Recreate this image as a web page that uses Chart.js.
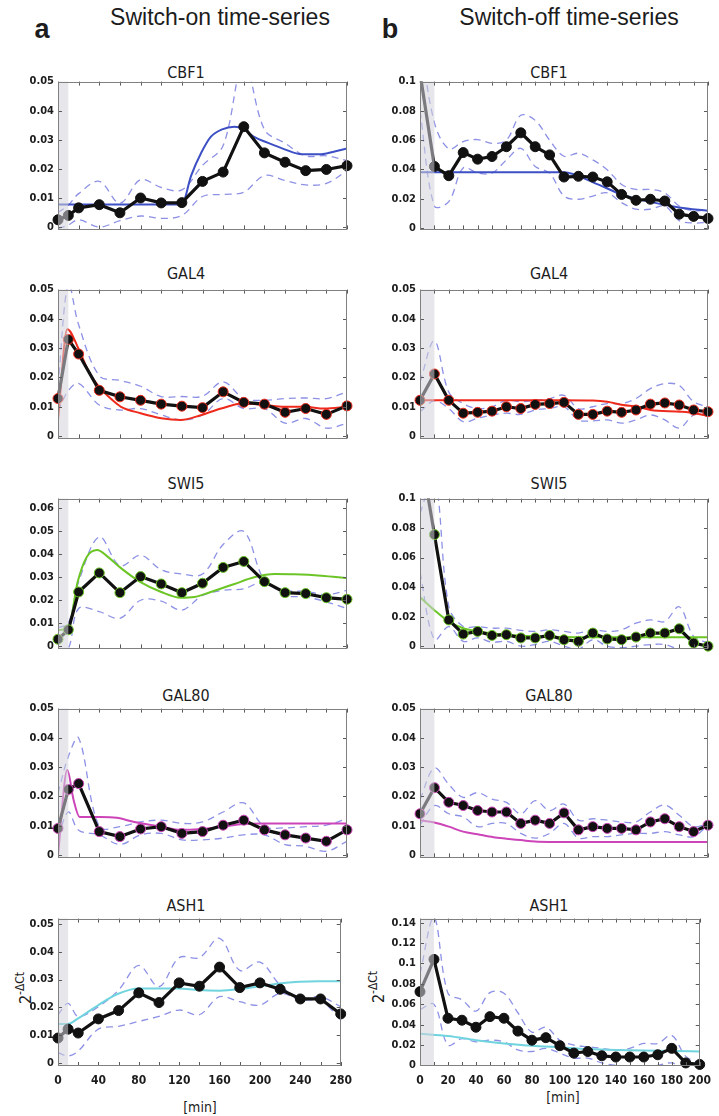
<!DOCTYPE html>
<html>
<head>
<meta charset="utf-8">
<script src="https://cdn.jsdelivr.net/npm/chart.js@4.4.1/dist/chart.umd.min.js"></script>
<style>
  html, body { margin: 0; padding: 0; background: #fff; }
  #page { position: relative; width: 719px; height: 1116px; overflow: hidden; background: #fff; }
  .txt { position: absolute; transform: translate(-50%, -50%); white-space: nowrap; color: #1c1c1c; }
  .head { font: 23px "Liberation Sans", Arial, sans-serif; }
  .tag { font: bold 27px "Liberation Sans", Arial, sans-serif; }
  .ptitle { font: 16px "DejaVu Sans Condensed", "DejaVu Sans", sans-serif; }
  .xt { font: 14px "DejaVu Sans Condensed", "DejaVu Sans", sans-serif; }
  .yt { font: 16px "DejaVu Sans Condensed", "DejaVu Sans", sans-serif; transform: translate(-50%, -50%) rotate(-90deg); }
  .yt sup { font-size: 12px; }
  canvas { position: absolute; }
</style>
</head>
<body>
<div id="page">
  <div class="txt tag" style="left:42px;top:29px">a</div>
  <div class="txt head" style="left:220px;top:17px">Switch-on time-series</div>
  <div class="txt tag" style="left:390px;top:29px">b</div>
  <div class="txt head" style="left:569px;top:17px">Switch-off time-series</div>
  <div class="txt xt" style="left:200px;top:1107px">[min]</div>
  <div class="txt xt" style="left:563px;top:1097px">[min]</div>
  <div class="txt yt" style="left:24px;top:988px">2<sup>-ΔCt</sup></div>
  <div class="txt yt" style="left:377px;top:987px">2<sup>-ΔCt</sup></div>
</div>
<script>
// ---- sampling times [min] ----
const onTimes  = [0, 10, 20, 40, 60, 80, 100, 120, 140, 160, 180, 200, 220, 240, 260, 280];
const offTimes = [0, 10, 20, 30, 40, 50, 60, 70, 80, 90, 100, 110, 120, 130, 140, 150, 160, 170, 180, 190, 200];

// ---- axis ticks ----
const onTickMarks  = [0, 20, 40, 60, 80, 100, 120, 140, 160, 180, 200, 220, 240, 260, 280];
const onTickLabels = [0, 40, 80, 120, 160, 200, 240, 280];
const offTickMarks  = [0, 10, 20, 30, 40, 50, 60, 70, 80, 90, 100, 110, 120, 130, 140, 150, 160, 170, 180, 190, 200];
const offTickLabels = [0, 20, 40, 60, 80, 100, 120, 140, 160, 180, 200];
const yTicks05 = [0, 0.01, 0.02, 0.03, 0.04, 0.05];
const yTicks06 = [0, 0.01, 0.02, 0.03, 0.04, 0.05, 0.06];
const yTicks10 = [0, 0.02, 0.04, 0.06, 0.08, 0.1];
const yTicks14 = [0, 0.02, 0.04, 0.06, 0.08, 0.1, 0.12, 0.14];

// ---- switch-on: CBF1 ----
const cbf1OnMean  = [0.0025, 0.004, 0.0066, 0.0077, 0.0049, 0.0100, 0.0083, 0.0084, 0.0157, 0.0189, 0.0345, 0.0255, 0.0223, 0.0194, 0.0198, 0.0211];
const cbf1OnUpper = [0.005, 0.0075, 0.0115, 0.0157, 0.0082, 0.0163, 0.0136, 0.0128, 0.0212, 0.028, 0.057, 0.0335, 0.0288, 0.0245, 0.0245, 0.0228];
const cbf1OnLower = [-0.0005, 0.0007, 0.0025, 0.0, 0.0022, 0.0038, 0.003, 0.004, 0.0105, 0.0112, 0.012, 0.0177, 0.016, 0.0145, 0.015, 0.0194];
const cbf1OnModelT = [0, 40, 80, 120, 129, 139, 148, 159, 171, 179, 190, 203, 219, 236, 255, 268, 280];
const cbf1OnModelV = [0.0078, 0.0078, 0.0078, 0.0078, 0.0177, 0.0257, 0.031, 0.0336, 0.0345, 0.0339, 0.031, 0.029, 0.0268, 0.025, 0.025, 0.026, 0.027];

// ---- switch-on: GAL4 ----
const gal4OnMean  = [0.0128, 0.033, 0.028, 0.0156, 0.0134, 0.0122, 0.0109, 0.0102, 0.0097, 0.0151, 0.0115, 0.0109, 0.0081, 0.0094, 0.0074, 0.0103];
const gal4OnUpper = [0.017, 0.052, 0.038, 0.0206, 0.019, 0.017, 0.0135, 0.0135, 0.0136, 0.0185, 0.0128, 0.0122, 0.0128, 0.013, 0.0128, 0.0151];
const gal4OnLower = [0.0085, 0.0155, 0.018, 0.0106, 0.0089, 0.0094, 0.0072, 0.0055, 0.0072, 0.0128, 0.0094, 0.0094, 0.0044, 0.006, 0.0027, 0.0044];
const gal4OnModelT = [0, 9, 20, 30, 40, 51, 61, 80, 100, 119, 139, 158, 179, 200, 219, 239, 258, 280];
const gal4OnModelV = [0.0055, 0.0365, 0.0297, 0.0218, 0.0167, 0.0128, 0.010, 0.0078, 0.0061, 0.0055, 0.0072, 0.0094, 0.0111, 0.0106, 0.010, 0.010, 0.0094, 0.010];

// ---- switch-on: SWI5 ----
const swi5OnMean  = [0.003, 0.0071, 0.0236, 0.0319, 0.0233, 0.0303, 0.0271, 0.0233, 0.0274, 0.0343, 0.0369, 0.0281, 0.0233, 0.0229, 0.0211, 0.0204];
const swi5OnUpper = [0.008, 0.010, 0.028, 0.0476, 0.035, 0.0396, 0.0333, 0.0314, 0.0314, 0.0443, 0.050, 0.0286, 0.0243, 0.0239, 0.0224, 0.0243];
const swi5OnLower = [-0.002, -0.001, 0.0164, 0.015, 0.0121, 0.020, 0.0196, 0.0157, 0.0221, 0.0243, 0.025, 0.028, 0.0221, 0.0214, 0.0193, 0.0164];
const swi5OnModelT = [0, 10, 19, 28, 38, 48, 61, 80, 100, 119, 132, 148, 171, 190, 210, 229, 255, 280];
const swi5OnModelV = [0.007, 0.0079, 0.0279, 0.039, 0.0419, 0.039, 0.034, 0.0279, 0.0236, 0.0211, 0.0214, 0.0236, 0.0271, 0.030, 0.0314, 0.0313, 0.0307, 0.0296];

// ---- switch-on: GAL80 ----
const gal80OnMean  = [0.0091, 0.0224, 0.0244, 0.008, 0.0063, 0.0089, 0.0097, 0.0074, 0.008, 0.0102, 0.0119, 0.0086, 0.0069, 0.0058, 0.0047, 0.0086];
const gal80OnUpper = [0.021, 0.0336, 0.040, 0.0097, 0.0097, 0.0113, 0.0119, 0.0108, 0.0113, 0.0147, 0.0178, 0.0097, 0.0093, 0.0097, 0.0102, 0.0124];
const gal80OnLower = [0.006, 0.0147, 0.0085, 0.0069, 0.0036, 0.0069, 0.0074, 0.0052, 0.0052, 0.0058, 0.0069, 0.0069, 0.0036, 0.003, 0.0013, 0.0047];
const gal80OnModelT = [0, 9, 15, 21, 41, 57, 74, 100, 119, 139, 160, 179, 200, 240, 280];
const gal80OnModelV = [0.0, 0.029, 0.019, 0.013, 0.013, 0.0127, 0.0113, 0.0097, 0.0086, 0.0089, 0.0097, 0.0106, 0.0108, 0.0108, 0.0108];

// ---- switch-on: ASH1 ----
const ash1OnMean  = [0.0089, 0.0121, 0.0107, 0.0158, 0.0188, 0.0252, 0.0217, 0.0288, 0.0276, 0.0345, 0.0271, 0.0288, 0.0265, 0.023, 0.023, 0.0176];
const ash1OnUpper = [0.0173, 0.0214, 0.0167, 0.0202, 0.0262, 0.0351, 0.0274, 0.0379, 0.0379, 0.0449, 0.0333, 0.0363, 0.028, 0.0232, 0.0238, 0.0202];
const ash1OnLower = [0.0036, 0.0024, 0.0042, 0.0121, 0.0131, 0.0149, 0.0167, 0.019, 0.0173, 0.0238, 0.022, 0.0208, 0.025, 0.0226, 0.0224, 0.0155];
const ash1OnModelT = [0, 10, 20, 40, 59, 80, 100, 119, 139, 160, 179, 200, 219, 239, 258, 280];
const ash1OnModelV = [0.014, 0.014, 0.016, 0.0208, 0.0248, 0.0268, 0.0268, 0.0268, 0.0262, 0.026, 0.0265, 0.0276, 0.0286, 0.0292, 0.0294, 0.0294];

// ---- switch-off: CBF1 ----
const cbf1OffMean  = [0.106, 0.042, 0.0357, 0.0515, 0.047, 0.0488, 0.0555, 0.065, 0.0555, 0.0499, 0.0348, 0.0353, 0.0348, 0.0315, 0.0229, 0.0189, 0.0196, 0.0184, 0.0094, 0.0079, 0.0065];
const cbf1OffUpper = [0.13, 0.072, 0.054, 0.059, 0.0604, 0.0578, 0.060, 0.077, 0.0735, 0.060, 0.049, 0.051, 0.0465, 0.0398, 0.0297, 0.0263, 0.0263, 0.024, 0.015, 0.0117, 0.0128];
const cbf1OffLower = [0.08, 0.015, 0.018, 0.041, 0.0375, 0.0375, 0.0465, 0.0544, 0.042, 0.0375, 0.0218, 0.0196, 0.0218, 0.024, 0.0173, 0.0128, 0.0128, 0.015, 0.005, 0.0034, 0.0038];
const cbf1OffModelT = [0, 50, 100, 121, 140, 160, 180, 200];
const cbf1OffModelV = [0.038, 0.038, 0.038, 0.0308, 0.0229, 0.0178, 0.014, 0.0117];

// ---- switch-off: GAL4 ----
const gal4OffMean  = [0.0122, 0.0212, 0.0122, 0.0078, 0.0081, 0.0085, 0.010, 0.0094, 0.0108, 0.0111, 0.0115, 0.0074, 0.0074, 0.0085, 0.0081, 0.0089, 0.0109, 0.0113, 0.0106, 0.0089, 0.0083];
const gal4OffUpper = [0.0184, 0.0325, 0.015, 0.0111, 0.0094, 0.010, 0.0122, 0.0117, 0.0122, 0.0128, 0.0139, 0.0094, 0.010, 0.0111, 0.0111, 0.0128, 0.0162, 0.0179, 0.0173, 0.0117, 0.010];
const gal4OffLower = [0.0083, 0.012, 0.0094, 0.0049, 0.0061, 0.0072, 0.0078, 0.0074, 0.0089, 0.0094, 0.010, 0.0055, 0.0052, 0.0055, 0.0044, 0.0055, 0.0072, 0.0055, 0.0027, 0.0072, 0.0078];
const gal4OffModelT = [0, 50, 100, 120, 130, 141, 151, 160, 181, 191, 200];
const gal4OffModelV = [0.0122, 0.0122, 0.0122, 0.0121, 0.0117, 0.0106, 0.010, 0.0089, 0.0083, 0.0078, 0.0069];

// ---- switch-off: SWI5 ----
const swi5OffMean  = [0.134, 0.0756, 0.0178, 0.0082, 0.010, 0.0073, 0.0078, 0.0056, 0.0056, 0.0073, 0.0044, 0.0033, 0.0089, 0.0049, 0.0044, 0.0062, 0.0089, 0.0089, 0.0118, 0.0022, 0.0];
const swi5OffUpper = [0.09, 0.115, 0.027, 0.0133, 0.0133, 0.0122, 0.0122, 0.0107, 0.010, 0.0111, 0.010, 0.0089, 0.0111, 0.010, 0.0111, 0.0156, 0.0178, 0.0167, 0.0267, 0.0067, 0.0022];
const swi5OffLower = [0.05, 0.0044, 0.0133, 0.0033, 0.0056, 0.0027, 0.0033, 0.0, 0.0011, 0.0033, 0.0, -0.002, 0.0044, 0.0, -0.001, 0.0, 0.0011, 0.0011, -0.002, -0.002, -0.002];
const swi5OffModelT = [0, 10, 20, 30, 40, 60, 80, 100, 140, 200];
const swi5OffModelV = [0.0333, 0.0244, 0.0167, 0.0122, 0.010, 0.0078, 0.0067, 0.0062, 0.006, 0.006];

// ---- switch-off: GAL80 ----
const gal80OffMean  = [0.0141, 0.023, 0.018, 0.0169, 0.0152, 0.0147, 0.0147, 0.0108, 0.0119, 0.0108, 0.0144, 0.0086, 0.0097, 0.0091, 0.0091, 0.0086, 0.0113, 0.0124, 0.0097, 0.008, 0.0102];
const gal80OffUpper = [0.019, 0.0297, 0.0241, 0.0197, 0.0213, 0.0191, 0.018, 0.0141, 0.0186, 0.0152, 0.0174, 0.0119, 0.0124, 0.0119, 0.0113, 0.0113, 0.0147, 0.0171, 0.0136, 0.0097, 0.0108];
const gal80OffLower = [0.0102, 0.0169, 0.0141, 0.013, 0.0097, 0.0108, 0.0108, 0.0074, 0.0058, 0.0074, 0.0108, 0.0058, 0.0063, 0.0063, 0.0069, 0.0074, 0.0074, 0.008, 0.0069, 0.0063, 0.0102];
const gal80OffModelT = [0, 10, 20, 30, 40, 51, 60, 70, 80, 90, 200];
const gal80OffModelV = [0.0119, 0.0111, 0.0097, 0.008, 0.0071, 0.0061, 0.0056, 0.0051, 0.0046, 0.0045, 0.0045];

// ---- switch-off: ASH1 ----
const ash1OffMean  = [0.0724, 0.104, 0.0463, 0.0444, 0.0375, 0.0479, 0.0463, 0.0337, 0.0248, 0.0273, 0.0194, 0.0121, 0.0137, 0.0095, 0.0083, 0.0083, 0.0083, 0.0105, 0.0168, 0.0025, 0.001];
const ash1OffUpper = [0.09, 0.145, 0.0708, 0.0644, 0.0533, 0.0714, 0.0708, 0.0517, 0.0327, 0.0375, 0.0248, 0.020, 0.0184, 0.0168, 0.0152, 0.0168, 0.0216, 0.0216, 0.0295, 0.0089, 0.0025];
const ash1OffLower = [0.055, 0.060, 0.020, 0.0263, 0.0232, 0.0248, 0.0232, 0.0152, 0.0137, 0.0168, 0.0121, 0.0073, 0.0073, 0.0025, 0.0, -0.002, -0.002, 0.0, 0.0025, -0.004, -0.002];
const ash1OffModelT = [0, 20, 40, 60, 80, 100, 120, 140, 160, 180, 200];
const ash1OffModelV = [0.0311, 0.0289, 0.0248, 0.0216, 0.0194, 0.0178, 0.0162, 0.0152, 0.0146, 0.0143, 0.0137];

// ---- colours ----
const BLUE = '#3d4fc4', RED = '#ee2a1c', GREEN = '#6cc526', MAGENTA = '#cc44b8', CYAN = '#70d4df';
const DASH = 'rgba(112,118,222,0.8)';

// ---- panel layout ----
const columns = [
  { left: 0,   width: 360, plotLeft: 58, plotRight: 347, times: onTimes,  marks: onTickMarks,  labels: onTickLabels,  xMax: 280, titleX: 186 },
  { left: 360, width: 359, plotLeft: 60, plotRight: 348, times: offTimes, marks: offTickMarks, labels: offTickLabels, xMax: 200, titleX: 549 }
];
const rows = [
  { top: 81,  bottom: 230,  titleY: 72 },
  { top: 289, bottom: 439,  titleY: 273 },
  { top: 498, bottom: 649,  titleY: 483 },
  { top: 708, bottom: 858,  titleY: 695 },
  { top: 918, bottom: 1066, titleY: 905 }
];

const panels = [
  { col: 0, row: 0, title: 'CBF1',  mean: cbf1OnMean,  upper: cbf1OnUpper,  lower: cbf1OnLower,  mT: cbf1OnModelT,  mV: cbf1OnModelV,  color: BLUE,    edge: '#111', yMin: -0.0008, yMax: 0.05,  yTicks: yTicks05 },
  { col: 0, row: 1, title: 'GAL4',  mean: gal4OnMean,  upper: gal4OnUpper,  lower: gal4OnLower,  mT: gal4OnModelT,  mV: gal4OnModelV,  color: RED,     edge: RED,    yMin: -0.0008, yMax: 0.05,  yTicks: yTicks05 },
  { col: 0, row: 2, title: 'SWI5',  mean: swi5OnMean,  upper: swi5OnUpper,  lower: swi5OnLower,  mT: swi5OnModelT,  mV: swi5OnModelV,  color: GREEN,   edge: GREEN,  yMin: -0.001,  yMax: 0.0643, yTicks: yTicks06 },
  { col: 0, row: 3, title: 'GAL80', mean: gal80OnMean, upper: gal80OnUpper, lower: gal80OnLower, mT: gal80OnModelT, mV: gal80OnModelV, color: MAGENTA, edge: MAGENTA, yMin: -0.0008, yMax: 0.05, yTicks: yTicks05 },
  { col: 0, row: 4, title: 'ASH1',  mean: ash1OnMean,  upper: ash1OnUpper,  lower: ash1OnLower,  mT: ash1OnModelT,  mV: ash1OnModelV,  color: CYAN,    edge: '#111', yMin: -0.0012, yMax: 0.052, yTicks: yTicks05 },
  { col: 1, row: 0, title: 'CBF1',  mean: cbf1OffMean,  upper: cbf1OffUpper,  lower: cbf1OffLower,  mT: cbf1OffModelT,  mV: cbf1OffModelV,  color: BLUE,    edge: '#111', yMin: -0.001,  yMax: 0.1,  yTicks: yTicks10 },
  { col: 1, row: 1, title: 'GAL4',  mean: gal4OffMean,  upper: gal4OffUpper,  lower: gal4OffLower,  mT: gal4OffModelT,  mV: gal4OffModelV,  color: RED,     edge: RED,    yMin: -0.0008, yMax: 0.05, yTicks: yTicks05 },
  { col: 1, row: 2, title: 'SWI5',  mean: swi5OffMean,  upper: swi5OffUpper,  lower: swi5OffLower,  mT: swi5OffModelT,  mV: swi5OffModelV,  color: GREEN,   edge: GREEN,  yMin: -0.0015, yMax: 0.1,  yTicks: yTicks10 },
  { col: 1, row: 3, title: 'GAL80', mean: gal80OffMean, upper: gal80OffUpper, lower: gal80OffLower, mT: gal80OffModelT, mV: gal80OffModelV, color: MAGENTA, edge: MAGENTA, yMin: -0.0008, yMax: 0.05, yTicks: yTicks05 },
  { col: 1, row: 4, title: 'ASH1',  mean: ash1OffMean,  upper: ash1OffUpper,  lower: ash1OffLower,  mT: ash1OffModelT,  mV: ash1OffModelV,  color: CYAN,    edge: '#111', yMin: -0.0005, yMax: 0.144, yTicks: yTicks14 }
];

// Frame, inward tick marks and the shaded pre-switch interval
const framePlugin = {
  id: 'frame',
  afterDatasetsDraw(chart, args, opts) {
    const { ctx, chartArea: a, scales: { x } } = chart;
    const x0 = x.getPixelForValue(opts.band[0]);
    const x1 = x.getPixelForValue(opts.band[1]);
    ctx.save();
    ctx.fillStyle = 'rgba(212,212,218,0.55)';
    ctx.fillRect(x0, a.top, x1 - x0, a.bottom - a.top);
    ctx.restore();
  },
  afterDraw(chart, args, opts) {
    const { ctx, chartArea: a, scales: { x, y } } = chart;
    ctx.save();
    ctx.strokeStyle = '#5a5a5a';
    ctx.lineWidth = 1;
    ctx.beginPath();
    for (const v of opts.xMarks) {
      const px = Math.round(x.getPixelForValue(v)) + 0.5;
      ctx.moveTo(px, a.top); ctx.lineTo(px, a.top + 4);
      ctx.moveTo(px, a.bottom); ctx.lineTo(px, a.bottom - 4);
    }
    for (const v of opts.yMarks) {
      const py = Math.round(y.getPixelForValue(v)) + 0.5;
      ctx.moveTo(a.left, py); ctx.lineTo(a.left + 4, py);
      ctx.moveTo(a.right, py); ctx.lineTo(a.right - 4, py);
    }
    ctx.stroke();
    ctx.strokeStyle = '#808080';
    ctx.strokeRect(Math.round(a.left) + 0.5, Math.round(a.top) + 0.5,
                   Math.round(a.right - a.left) - 1, Math.round(a.bottom - a.top) - 1);
    ctx.restore();
  }
};

const fmt = v => (v === 0 ? '0' : String(+v.toFixed(3)));
const tickFont = { family: '"DejaVu Sans Condensed", "DejaVu Sans", sans-serif', size: 11, weight: 'bold' };
const page = document.getElementById('page');

for (const p of panels) {
  const c = columns[p.col], r = rows[p.row];
  const isBottom = p.row === 4;
  const padTop = 10, padBottom = isBottom ? 2 : 10, xAxisH = isBottom ? 26 : 0;
  const h = padTop + (r.bottom - r.top) + xAxisH + padBottom;

  const title = document.createElement('div');
  title.className = 'txt ptitle';
  title.style.left = c.titleX + 'px';
  title.style.top = r.titleY + 'px';
  title.textContent = p.title;
  page.appendChild(title);

  const canvas = document.createElement('canvas');
  canvas.width = c.width; canvas.height = h;
  canvas.style.left = c.left + 'px';
  canvas.style.top = (r.top - padTop) + 'px';
  canvas.style.width = c.width + 'px';
  canvas.style.height = h + 'px';
  page.appendChild(canvas);

  const pts = arr => c.times.map((t, i) => ({ x: t, y: arr[i] }));
  const modelPts = p.mT.map((t, i) => ({ x: t, y: p.mV[i] }));
  const noClip = { left: 0, top: 0, right: 0, bottom: 0 };

  new Chart(canvas, {
    type: 'line',
    data: {
      datasets: [
        { label: 'mean', data: pts(p.mean), borderColor: '#111', borderWidth: 3.2, tension: 0,
          pointRadius: 5, pointBackgroundColor: '#111', pointBorderColor: p.edge, pointBorderWidth: 1,
          clip: { left: 6, top: 0, right: 6, bottom: 6 } },
        { label: 'model', data: modelPts, borderColor: p.color, borderWidth: 2, pointRadius: 0,
          cubicInterpolationMode: 'monotone', clip: noClip },
        { label: 'upper', data: pts(p.upper), borderColor: DASH, borderWidth: 1.3, borderDash: [7, 5],
          pointRadius: 0, tension: 0.35, clip: noClip },
        { label: 'lower', data: pts(p.lower), borderColor: DASH, borderWidth: 1.3, borderDash: [7, 5],
          pointRadius: 0, tension: 0.35, clip: noClip }
      ]
    },
    options: {
      responsive: false,
      animation: false,
      devicePixelRatio: 1,
      events: [],
      layout: { padding: { left: 0, right: c.width - c.plotRight, top: padTop, bottom: padBottom } },
      plugins: {
        legend: { display: false },
        tooltip: { enabled: false },
        frame: { band: [0, 10], xMarks: c.marks, yMarks: p.yTicks }
      },
      scales: {
        x: {
          type: 'linear', min: 0, max: c.xMax, display: isBottom,
          grid: { display: false, drawTicks: false }, border: { display: false },
          ticks: { font: { ...tickFont, size: 12 }, color: '#1c1c1c', padding: 8, maxRotation: 0, autoSkip: false, callback: v => String(v) },
          afterBuildTicks: s => { s.ticks = c.labels.map(v => ({ value: v })); },
          afterFit: s => { s.height = xAxisH; }
        },
        y: {
          type: 'linear', min: p.yMin, max: p.yMax,
          grid: { display: false, drawTicks: false }, border: { display: false },
          ticks: { font: tickFont, color: '#1c1c1c', padding: 4, autoSkip: false, callback: v => fmt(v) },
          afterBuildTicks: s => { s.ticks = p.yTicks.map(v => ({ value: v })); },
          afterFit: s => { s.width = c.plotLeft; }
        }
      }
    },
    plugins: [framePlugin]
  });
}
</script>
</body>
</html>
